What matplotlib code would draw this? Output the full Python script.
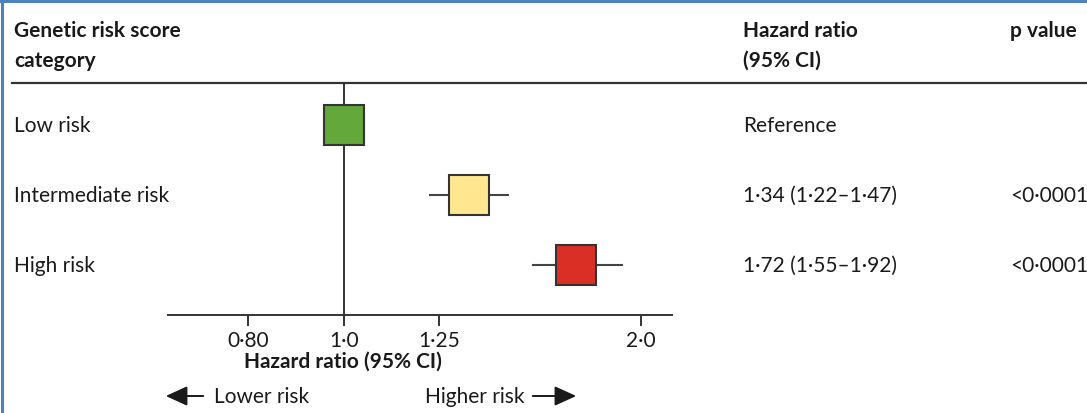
import numpy as np
import matplotlib.pyplot as plt
import matplotlib.transforms as mtransforms
from matplotlib.lines import Line2D
from matplotlib.patches import FancyArrowPatch

plt.rcParams['font.family'] = ['Lato', 'DejaVu Sans']

categories = ['Low risk', 'Intermediate risk', 'High risk']
hr = [1.0, 1.34, 1.72]
ci_low = [np.nan, 1.22, 1.55]
ci_high = [np.nan, 1.47, 1.92]
hr_text = ['Reference', '1\u00b734 (1\u00b722\u20131\u00b747)', '1\u00b772 (1\u00b755\u20131\u00b792)']
p_text = ['', '<0\u00b70001', '<0\u00b70001']
box_colors = ['#63a83b', '#ffe68f', '#d92f25']
tick_vals = [0.80, 1.0, 1.25, 2.0]
tick_labels = ['0\u00b780', '1\u00b70', '1\u00b725', '2\u00b70']

W, H = 1087, 414
FS = 15
TXT = '#1a1a1a'
fig = plt.figure(figsize=(W / 100, H / 100), dpi=100)


def fx(px):
    return px / W


def fy(py):
    return 1 - py / H


# forest axes: x from 168 to 672 px, y from 84 to 316 px
ax = fig.add_axes([fx(168), fy(316), fx(672) - fx(168), fy(84) - fy(316)])
ax.set_xscale('log')
ax.set_xlim(0.663, 2.152)
ax.set_ylim(2.714, -0.6)
for s in ['top', 'right', 'left']:
    ax.spines[s].set_visible(False)
ax.spines['bottom'].set_color('#333333')
ax.spines['bottom'].set_linewidth(1.4)
ax.set_yticks([])
ax.xaxis.set_minor_locator(plt.NullLocator())
ax.set_xticks(tick_vals)
ax.set_xticklabels(tick_labels, fontsize=FS, color=TXT)
ax.tick_params(axis='x', direction='out', length=8, width=1.4, color='#333333', pad=3)

ax.axvline(1.0, color='#333333', lw=1.4, zorder=1)

rows = np.arange(len(categories))
for i in rows:
    if not np.isnan(ci_low[i]):
        ax.hlines(i, ci_low[i], ci_high[i], color='#444444', lw=1.5, zorder=2)
    ax.plot(hr[i], i, marker='s', markersize=29.5, markerfacecolor=box_colors[i],
            markeredgecolor='#333333', markeredgewidth=1.5, zorder=3)

# table text
row_tr = mtransforms.blended_transform_factory(fig.transFigure, ax.transData)
for i in rows:
    fig.text(fx(14), i, categories[i], transform=row_tr, fontsize=FS, va='center', color=TXT)
    fig.text(fx(743), i, hr_text[i], transform=row_tr, fontsize=FS, va='center', color=TXT)
    fig.text(fx(1010), i, p_text[i], transform=row_tr, fontsize=FS, va='center', color=TXT)

fig.text(fx(14), fy(31), 'Genetic risk score', fontsize=FS, fontweight='bold', va='center', color=TXT)
fig.text(fx(14), fy(61), 'category', fontsize=FS, fontweight='bold', va='center', color=TXT)
fig.text(fx(743), fy(31), 'Hazard ratio', fontsize=FS, fontweight='bold', va='center', color=TXT)
fig.text(fx(743), fy(61), '(95% CI)', fontsize=FS, fontweight='bold', va='center', color=TXT)
fig.text(fx(1010), fy(31), 'p value', fontsize=FS, fontweight='bold', va='center', color=TXT)

fig.text(fx(343), fy(362), 'Hazard ratio (95% CI)', fontsize=FS, fontweight='bold',
         ha='center', va='center', color=TXT)

# direction arrows
fig.text(fx(214), fy(397), 'Lower risk', fontsize=FS, va='center', color=TXT)
fig.text(fx(425), fy(397), 'Higher risk', fontsize=FS, va='center', color=TXT)
arrow = dict(arrowstyle='-|>,head_length=1.1,head_width=0.5', color=TXT, lw=1.4, mutation_scale=12)
fig.add_artist(FancyArrowPatch((fx(206), fy(397)), (fx(163), fy(397)),
                               transform=fig.transFigure, **arrow))
fig.add_artist(FancyArrowPatch((fx(530), fy(397)), (fx(579), fy(397)),
                               transform=fig.transFigure, **arrow))

# header rule and blue frame
fig.add_artist(Line2D([fx(12), fx(1086)], [fy(84), fy(84)], color='#333333', lw=1.6))
fig.add_artist(Line2D([0, 1], [fy(1.5), fy(1.5)], color='#4f81bd', lw=2.2))
fig.add_artist(Line2D([fx(2), fx(2)], [0, 1], color='#4f81bd', lw=2.2))

fig.savefig('out.png', dpi=100)
